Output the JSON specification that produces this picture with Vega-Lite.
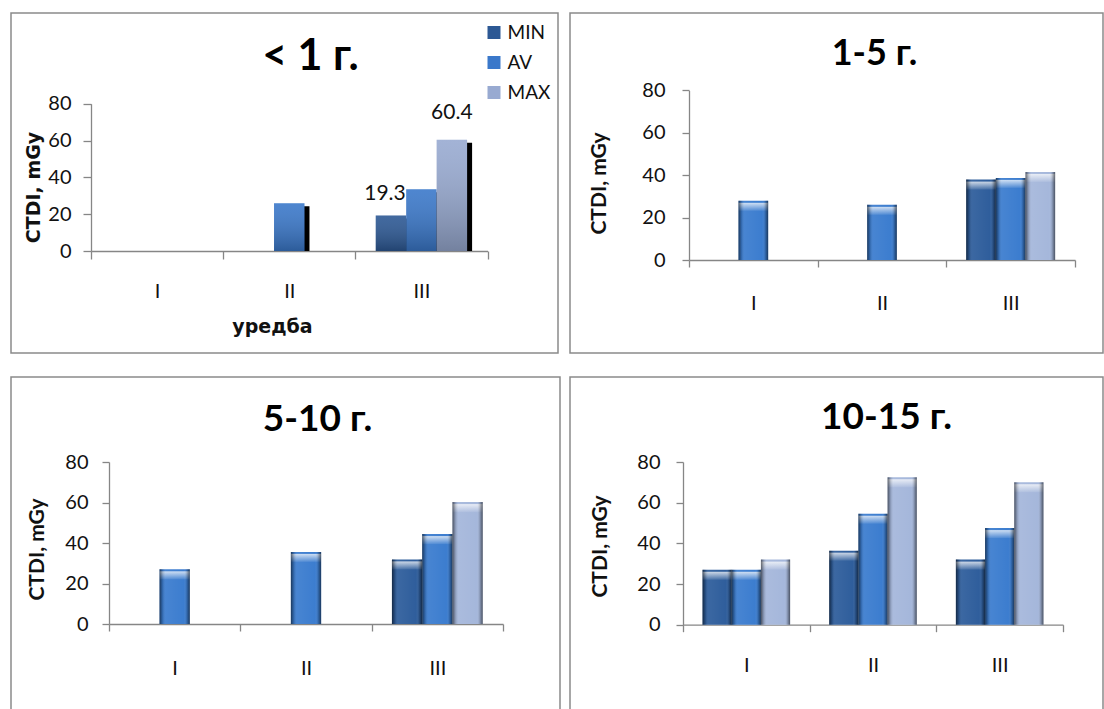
{
  "$schema": "https://vega.github.io/schema/vega-lite/v6.json",
  "padding": {"left": 10, "top": 12, "right": 0, "bottom": 0},
  "background": "white",
  "config": {
    "font": "Lato",
    "view": {"stroke": "#8a8a8a", "strokeWidth": 1.5},
    "axis": {"grid": false, "domainColor": "#868686", "tickColor": "#868686", "domainWidth": 1.3, "tickWidth": 1.3, "labelColor": "#111111", "labelFont": "Lato", "labelFontSize": 20, "titleColor": "#111111", "titleFontWeight": "bold"}
  },
  "datasets": {
    "d": [
      {"p": "P1", "cat": "II", "s": "AV", "v": 26.0},
      {"p": "P1", "cat": "III", "s": "MIN", "v": 19.3, "lbl": "19.3"},
      {"p": "P1", "cat": "III", "s": "AV", "v": 33.6},
      {"p": "P1", "cat": "III", "s": "MAX", "v": 60.4, "lbl": "60.4"},
      {"p": "P2", "cat": "I", "s": "AV", "v": 27.9},
      {"p": "P2", "cat": "II", "s": "AV", "v": 26.0},
      {"p": "P2", "cat": "III", "s": "MIN", "v": 37.9},
      {"p": "P2", "cat": "III", "s": "AV", "v": 38.7},
      {"p": "P2", "cat": "III", "s": "MAX", "v": 41.5},
      {"p": "P3", "cat": "I", "s": "AV", "v": 27.0},
      {"p": "P3", "cat": "II", "s": "AV", "v": 35.6},
      {"p": "P3", "cat": "III", "s": "MIN", "v": 31.9},
      {"p": "P3", "cat": "III", "s": "AV", "v": 44.4},
      {"p": "P3", "cat": "III", "s": "MAX", "v": 60.2},
      {"p": "P4", "cat": "I", "s": "MIN", "v": 27.0},
      {"p": "P4", "cat": "I", "s": "AV", "v": 27.0},
      {"p": "P4", "cat": "I", "s": "MAX", "v": 32.0},
      {"p": "P4", "cat": "II", "s": "MIN", "v": 36.4},
      {"p": "P4", "cat": "II", "s": "AV", "v": 54.6},
      {"p": "P4", "cat": "II", "s": "MAX", "v": 72.5},
      {"p": "P4", "cat": "III", "s": "MIN", "v": 32.0},
      {"p": "P4", "cat": "III", "s": "AV", "v": 47.5},
      {"p": "P4", "cat": "III", "s": "MAX", "v": 70.0}
    ]
  },
  "spacing": 22,
  "resolve": {"scale": {"color": "independent", "x": "independent", "y": "independent", "xOffset": "independent"}, "legend": {"color": "independent"}},
  "vconcat": [
    {
      "bounds": "flush",
      "spacing": 12,
      "resolve": {"scale": {"color": "independent", "x": "independent", "y": "independent", "xOffset": "independent"}, "legend": {"color": "independent"}},
      "hconcat": [
        {
          "width": 547,
          "height": 340,
          "data": {"name": "d"},
          "transform": [{"filter": "datum.p === 'P1'"}],
          "resolve": {"scale": {"x": "independent", "xOffset": "independent"}},
          "layer": [
            {
              "mark": {"type": "bar", "fill": "#000000", "yOffset": 3},
              "encoding": {
                "x": {"field": "cat", "type": "nominal", "scale": {"domain": ["I", "II", "III"], "range": [85, 481.5], "paddingInner": 0, "paddingOuter": 0},
                  "axis": {"orient": "top", "title": "< 1 г.", "domain": false, "ticks": false, "labels": false, "offset": 0, "titleFont": "Lato", "titleFontSize": 43, "titleColor": "#000000", "titleX": 299, "titleY": 43, "titleBaseline": "middle", "titleAlign": "center"}},
                "xOffset": {"field": "s", "type": "nominal", "scale": {"domain": ["MIN", "AV", "MAX"], "paddingInner": 0, "paddingOuter": 0.67}},
                "y": {"field": "v", "type": "quantitative", "scale": {"domain": [0, 80], "range": [238, 90.7], "nice": false},
                  "axis": {"title": "CTDI, mGy", "values": [0, 20, 40, 60, 80], "offset": -80, "tickSize": 8, "labelPadding": 12, "titleFont": "DejaVu Sans", "titleFontSize": 19, "titleX": -58, "titleY": 174, "titleBaseline": "middle", "titleAlign": "center", "titleAngle": -90}},
                "y2": {"datum": 0}
              }
            },
            {
              "encoding": {
                "x": {"field": "cat", "type": "nominal", "scale": {"domain": ["I", "II", "III"], "range": [80, 476.5], "paddingInner": 0, "paddingOuter": 0},
                  "axis": {"title": "уредба", "labelAngle": 0, "offset": -102, "tickBand": "extent", "tickSize": 8, "labelPadding": 32, "labelBaseline": "middle", "titleFont": "DejaVu Sans", "titleFontSize": 19, "titleX": 261, "titleY": 75, "titleBaseline": "middle", "titleAlign": "center"}},
                "xOffset": {"field": "s", "type": "nominal", "scale": {"domain": ["MIN", "AV", "MAX"], "paddingInner": 0, "paddingOuter": 0.67}},
                "y": {"field": "v", "type": "quantitative", "scale": {"domain": [0, 80], "range": [238, 90.7], "nice": false},
                  "axis": {"title": "CTDI, mGy", "values": [0, 20, 40, 60, 80], "offset": -80, "tickSize": 8, "labelPadding": 12, "titleFont": "DejaVu Sans", "titleFontSize": 19, "titleX": -58, "titleY": 174, "titleBaseline": "middle", "titleAlign": "center", "titleAngle": -90}}
              },
              "layer": [
                {
                  "mark": {"type": "bar"},
                  "encoding": {
                    "color": {"field": "s", "type": "nominal", "scale": {"domain": ["MIN", "AV", "MAX"], "range": ["#2C5894", "#3A78CA", "#98AAD1"]},
                      "legend": {"orient": "none", "legendX": 473.5, "legendY": 10, "title": null, "symbolType": "square", "symbolSize": 169, "symbolStrokeWidth": 0, "labelFontSize": 19, "labelFont": "Lato", "labelColor": "#111111", "rowPadding": 10, "labelOffset": 4, "padding": 0}}
                  }
                },
                {
                  "mark": {"type": "bar", "fill": {"gradient": "linear", "x1": 0, "y1": 0, "x2": 0, "y2": 1, "stops": [{"offset": 0, "color": "rgba(255,255,255,0.1)"}, {"offset": 1, "color": "rgba(0,0,0,0.24)"}]}}
                },
                {
                  "transform": [{"filter": "datum.s === 'MIN' && datum.lbl"}],
                  "mark": {"type": "text", "font": "Lato", "fontSize": 21, "color": "#111111", "dy": -21.5, "dx": -6, "baseline": "middle"},
                  "encoding": {"text": {"field": "lbl"}}
                },
                {
                  "transform": [{"filter": "datum.s === 'MAX' && datum.lbl"}],
                  "mark": {"type": "text", "font": "Lato", "fontSize": 21, "color": "#111111", "dy": -26.5, "baseline": "middle"},
                  "encoding": {"text": {"field": "lbl"}}
                }
              ]
            }
          ]
        },
        {
          "width": 533,
          "height": 340,
          "data": {"name": "d"},
          "transform": [{"filter": "datum.p === 'P2'"}],
          "encoding": {
            "x": {"field": "cat", "type": "nominal", "scale": {"domain": ["I", "II", "III"], "range": [119, 505], "paddingInner": 0, "paddingOuter": 0},
              "axis": {"title": "1-5 г.", "labelAngle": 0, "offset": -93, "tickBand": "extent", "tickSize": 7, "labelPadding": 36, "labelBaseline": "middle", "titleFont": "Lato", "titleFontSize": 36, "titleColor": "#000000", "titleX": 304, "titleY": -207, "titleBaseline": "middle", "titleAlign": "center"}},
            "xOffset": {"field": "s", "type": "nominal", "scale": {"domain": ["MIN", "AV", "MAX"], "paddingInner": 0, "paddingOuter": 0.67}},
            "y": {"field": "v", "type": "quantitative", "scale": {"domain": [0, 80], "range": [247, 77.3], "nice": false},
              "axis": {"title": "CTDI, mGy", "values": [0, 20, 40, 60, 80], "offset": -119, "tickSize": 7, "labelPadding": 17, "titleFontSize": 21, "titleX": -90, "titleY": 170, "titleBaseline": "middle", "titleAlign": "center", "titleAngle": -90}}
          },
          "layer": [
            {"mark": {"type": "bar"}, "encoding": {"color": {"field": "s", "type": "nominal", "scale": {"domain": ["MIN", "AV", "MAX"], "range": ["#2F5E9C", "#3C7DCF", "#A5B7DB"]}, "legend": null}}},
            {"mark": {"type": "bar", "yOffset": 2, "y2Offset": 10, "fill": {"gradient": "linear", "x1": 0, "y1": 0, "x2": 0, "y2": 1, "stops": [{"offset": 0, "color": "rgba(255,255,255,0.75)"}, {"offset": 1, "color": "rgba(255,255,255,0.08)"}]}}, "encoding": {"y2": {"field": "v"}}},
            {"mark": {"type": "bar", "fill": {"gradient": "linear", "x1": 0, "y1": 0, "x2": 1, "y2": 0, "stops": [{"offset": 0, "color": "rgba(0,0,0,0.55)"}, {"offset": 0.1, "color": "rgba(0,0,0,0.16)"}, {"offset": 0.2, "color": "rgba(255,255,255,0.06)"}, {"offset": 0.8, "color": "rgba(255,255,255,0)"}, {"offset": 0.9, "color": "rgba(0,0,0,0.16)"}, {"offset": 1, "color": "rgba(0,0,0,0.55)"}]}}}
          ]
        }
      ]
    },
    {
      "bounds": "flush",
      "spacing": 10,
      "resolve": {"scale": {"color": "independent", "x": "independent", "y": "independent", "xOffset": "independent"}, "legend": {"color": "independent"}},
      "hconcat": [
        {
          "width": 549,
          "height": 333,
          "data": {"name": "d"},
          "transform": [{"filter": "datum.p === 'P3'"}],
          "encoding": {
            "x": {"field": "cat", "type": "nominal", "scale": {"domain": ["I", "II", "III"], "range": [98, 492], "paddingInner": 0, "paddingOuter": 0},
              "axis": {"title": "5-10 г.", "labelAngle": 0, "offset": -86, "tickBand": "extent", "tickSize": 7, "labelPadding": 37, "labelBaseline": "middle", "titleFont": "Lato", "titleFontSize": 37, "titleColor": "#000000", "titleX": 306, "titleY": -205, "titleBaseline": "middle", "titleAlign": "center"}},
            "xOffset": {"field": "s", "type": "nominal", "scale": {"domain": ["MIN", "AV", "MAX"], "paddingInner": 0, "paddingOuter": 0.67}},
            "y": {"field": "v", "type": "quantitative", "scale": {"domain": [0, 80], "range": [247, 85], "nice": false},
              "axis": {"title": "CTDI, mGy", "values": [0, 20, 40, 60, 80], "offset": -98, "tickSize": 7, "labelPadding": 14, "titleFontSize": 21, "titleX": -72, "titleY": 172, "titleBaseline": "middle", "titleAlign": "center", "titleAngle": -90}}
          },
          "layer": [
            {"mark": {"type": "bar"}, "encoding": {"color": {"field": "s", "type": "nominal", "scale": {"domain": ["MIN", "AV", "MAX"], "range": ["#2F5E9C", "#3C7DCF", "#A5B7DB"]}, "legend": null}}},
            {"mark": {"type": "bar", "yOffset": 2, "y2Offset": 10, "fill": {"gradient": "linear", "x1": 0, "y1": 0, "x2": 0, "y2": 1, "stops": [{"offset": 0, "color": "rgba(255,255,255,0.75)"}, {"offset": 1, "color": "rgba(255,255,255,0.08)"}]}}, "encoding": {"y2": {"field": "v"}}},
            {"mark": {"type": "bar", "fill": {"gradient": "linear", "x1": 0, "y1": 0, "x2": 1, "y2": 0, "stops": [{"offset": 0, "color": "rgba(0,0,0,0.55)"}, {"offset": 0.1, "color": "rgba(0,0,0,0.16)"}, {"offset": 0.2, "color": "rgba(255,255,255,0.06)"}, {"offset": 0.8, "color": "rgba(255,255,255,0)"}, {"offset": 0.9, "color": "rgba(0,0,0,0.16)"}, {"offset": 1, "color": "rgba(0,0,0,0.55)"}]}}}
          ]
        },
        {
          "width": 533,
          "height": 333,
          "data": {"name": "d"},
          "transform": [{"filter": "datum.p === 'P4'"}],
          "encoding": {
            "x": {"field": "cat", "type": "nominal", "scale": {"domain": ["I", "II", "III"], "range": [113, 493], "paddingInner": 0, "paddingOuter": 0},
              "axis": {"title": "10-15 г.", "labelAngle": 0, "offset": -85.3, "tickBand": "extent", "tickSize": 7, "labelPadding": 34, "labelBaseline": "middle", "titleFont": "Lato", "titleFontSize": 37, "titleColor": "#000000", "titleX": 316, "titleY": -207.2, "titleBaseline": "middle", "titleAlign": "center"}},
            "xOffset": {"field": "s", "type": "nominal", "scale": {"domain": ["MIN", "AV", "MAX"], "paddingInner": 0, "paddingOuter": 0.67}},
            "y": {"field": "v", "type": "quantitative", "scale": {"domain": [0, 80], "range": [247.7, 85], "nice": false},
              "axis": {"title": "CTDI, mGy", "values": [0, 20, 40, 60, 80], "offset": -113, "tickSize": 7, "labelPadding": 16, "titleFontSize": 21, "titleX": -83, "titleY": 169, "titleBaseline": "middle", "titleAlign": "center", "titleAngle": -90}}
          },
          "layer": [
            {"mark": {"type": "bar"}, "encoding": {"color": {"field": "s", "type": "nominal", "scale": {"domain": ["MIN", "AV", "MAX"], "range": ["#2F5E9C", "#3C7DCF", "#A5B7DB"]}, "legend": null}}},
            {"mark": {"type": "bar", "yOffset": 2, "y2Offset": 10, "fill": {"gradient": "linear", "x1": 0, "y1": 0, "x2": 0, "y2": 1, "stops": [{"offset": 0, "color": "rgba(255,255,255,0.75)"}, {"offset": 1, "color": "rgba(255,255,255,0.08)"}]}}, "encoding": {"y2": {"field": "v"}}},
            {"mark": {"type": "bar", "fill": {"gradient": "linear", "x1": 0, "y1": 0, "x2": 1, "y2": 0, "stops": [{"offset": 0, "color": "rgba(0,0,0,0.55)"}, {"offset": 0.1, "color": "rgba(0,0,0,0.16)"}, {"offset": 0.2, "color": "rgba(255,255,255,0.06)"}, {"offset": 0.8, "color": "rgba(255,255,255,0)"}, {"offset": 0.9, "color": "rgba(0,0,0,0.16)"}, {"offset": 1, "color": "rgba(0,0,0,0.55)"}]}}}
          ]
        }
      ]
    }
  ]
}
